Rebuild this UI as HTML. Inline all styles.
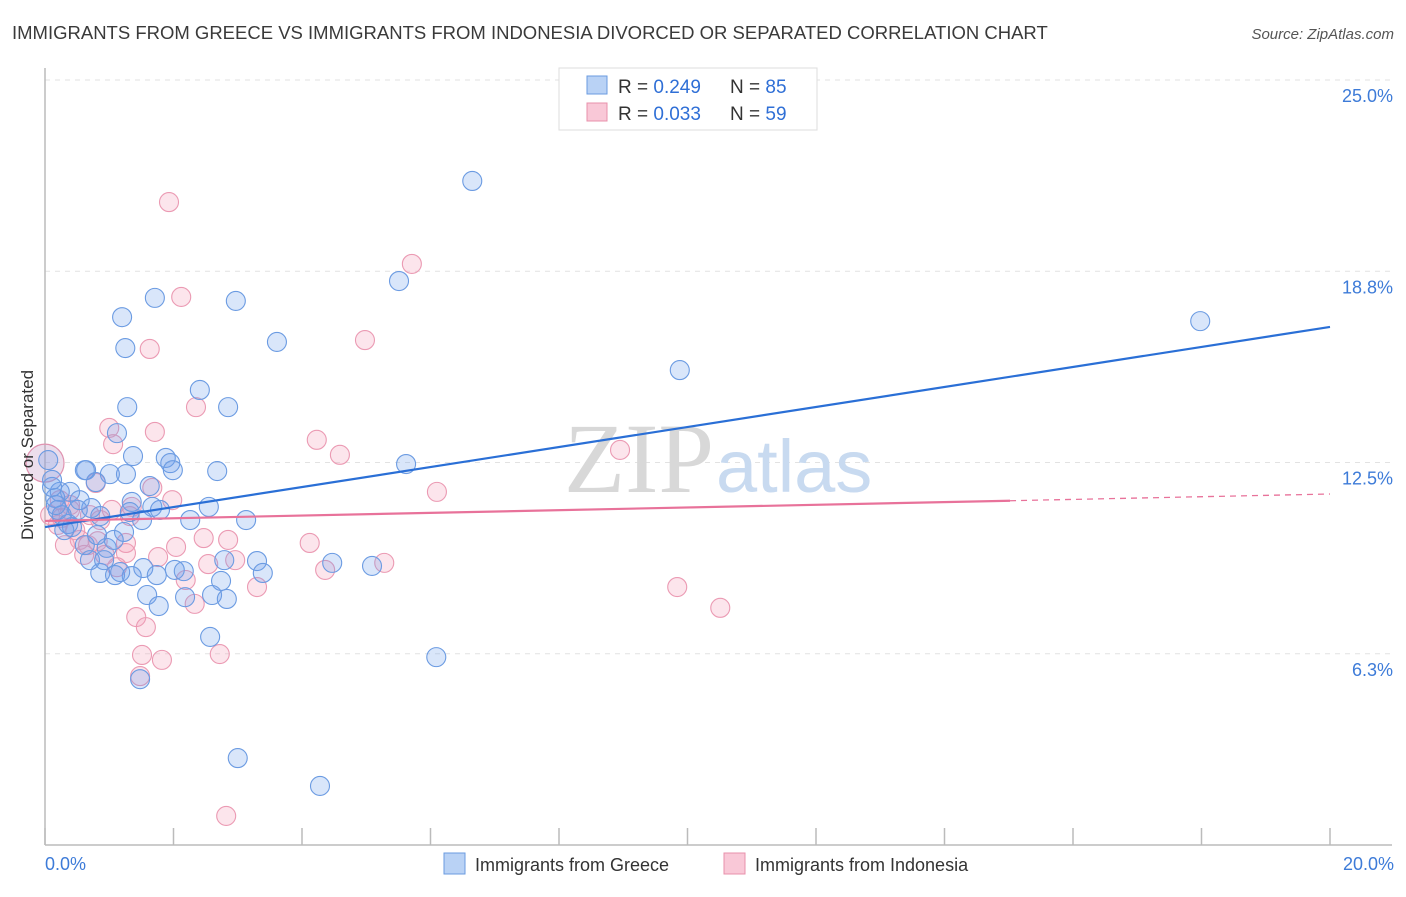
<!DOCTYPE html>
<html><head><meta charset="utf-8"><style>
body{margin:0;background:#fff;font-family:"Liberation Sans",sans-serif;}
</style></head><body>
<svg width="1406" height="892" viewBox="0 0 1406 892" xmlns="http://www.w3.org/2000/svg" font-family="Liberation Sans, sans-serif">
<text x="12" y="39" font-size="18.5" fill="#3a3a3a">IMMIGRANTS FROM GREECE VS IMMIGRANTS FROM INDONESIA DIVORCED OR SEPARATED CORRELATION CHART</text>
<text x="1394" y="39" font-size="15" fill="#555" font-style="italic" text-anchor="end">Source: ZipAtlas.com</text>
<g id="grid"></g>
<text x="714" y="492" font-size="100" fill="#d8d8d8" text-anchor="end" font-family="Liberation Serif, serif">ZIP</text>
<text x="716" y="492" font-size="74" fill="#c8daf0">atlas</text>
<g id="pts"></g>
<g id="lines"></g>
<text transform="translate(33,455) rotate(-90)" font-size="17" fill="#333" text-anchor="middle">Divorced or Separated</text>
<text x="45" y="870" font-size="18" fill="#3d7bd8">0.0%</text>
<text x="1394" y="870" font-size="18" fill="#3d7bd8" text-anchor="end">20.0%</text>
<g>
<rect x="559" y="68" width="258" height="62" fill="#fff" stroke="#ddd"/>
<rect x="587" y="76" width="20" height="18" fill="#b9d2f5" stroke="#6a9be0"/>
<rect x="587" y="103" width="20" height="18" fill="#f9c8d7" stroke="#e890ab"/>
<text x="618" y="93" font-size="19" fill="#333">R = <tspan fill="#2f6fd6">0.249</tspan></text>
<text x="730" y="93" font-size="19" fill="#333">N = <tspan fill="#2f6fd6">85</tspan></text>
<text x="618" y="120" font-size="19" fill="#333">R = <tspan fill="#2f6fd6">0.033</tspan></text>
<text x="730" y="120" font-size="19" fill="#333">N = <tspan fill="#2f6fd6">59</tspan></text>
</g>
<g>
<rect x="444" y="853" width="21" height="21" fill="#b9d2f5" stroke="#6a9be0"/>
<text x="475" y="871" font-size="18" fill="#333">Immigrants from Greece</text>
<rect x="724" y="853" width="21" height="21" fill="#f9c8d7" stroke="#e890ab"/>
<text x="755" y="871" font-size="18" fill="#333">Immigrants from Indonesia</text>
</g>
</svg>
<script>
const yTicks=[6.25,12.5,18.75,25];
const yTickLabels=["6.3%","12.5%","18.8%","25.0%"];
const greeceX=[6.65,17.98,5.51,1.71,2.97,1.20,1.25,3.61,9.88,2.41,1.28,2.85,1.12,1.37,1.88,1.95,1.99,2.68,1.26,1.01,0.64,5.62,1.63,0.79,2.55,1.35,1.67,0.72,0.23,0.39,0.16,0.11,0.20,0.51,0.86,1.32,1.51,1.79,3.13,0.36,0.42,0.30,0.62,0.96,0.81,1.23,1.53,1.74,1.35,2.02,2.16,3.30,2.79,4.47,5.09,3.39,0.86,1.09,1.17,0.70,2.74,1.59,2.18,1.77,2.60,2.83,2.57,6.09,1.48,3.00,4.28,0.11,0.05,0.62,0.26,0.54,0.17,0.92,1.07,2.26];
const greeceY=[21.7,17.12,18.43,17.88,17.78,17.25,16.24,16.44,15.52,14.87,14.31,14.31,13.46,12.71,12.65,12.48,12.25,12.22,12.12,12.12,12.25,12.45,11.73,11.86,11.05,11.21,11.05,11.01,11.54,11.54,11.34,11.70,10.95,10.95,10.75,10.88,10.62,10.95,10.62,10.49,10.39,10.29,9.80,9.71,10.13,10.23,9.05,8.82,8.79,8.99,8.95,9.28,9.31,9.22,9.12,8.89,8.89,8.82,8.92,9.31,8.63,8.17,8.10,7.81,8.17,8.04,6.80,6.14,5.42,2.84,1.93,11.93,12.58,12.25,10.78,11.27,11.11,9.31,9.97,10.62];
const indoX=[1.93,5.71,2.12,4.98,1.63,2.35,4.23,4.59,1.00,1.71,1.06,8.95,6.10,0.79,1.67,1.98,1.35,1.32,0.86,0.39,0.23,0.26,0.20,0.54,0.67,0.82,0.31,1.26,1.26,1.76,2.04,2.47,2.85,2.54,4.36,5.28,2.19,3.30,9.84,10.51,1.42,1.57,2.33,2.72,1.51,1.82,1.48,2.82,0.61,1.12,0.47,1.04,0.70,0.08,0.93,0.39,4.12,2.96];
const indoY=[21.01,18.99,17.91,16.50,16.21,14.31,13.24,12.75,13.63,13.50,13.10,12.91,11.54,11.83,11.67,11.27,11.05,10.75,10.62,10.95,11.27,10.69,10.46,9.97,9.80,9.93,9.80,9.87,9.54,9.41,9.74,10.03,9.97,9.18,8.99,9.22,8.66,8.43,8.43,7.75,7.45,7.12,7.88,6.24,6.21,6.05,5.52,0.95,9.48,9.08,10.29,10.95,10.78,10.78,9.48,11.11,9.87,9.31];
const bigPoint=[0.0,12.48];
const greeceTrend=[10.39,16.93];
const indoTrend=[10.59,11.47];
const indoSolidEnd=15.02;
const NS="http://www.w3.org/2000/svg";
const X=v=>45+v/20*1285;
const Y=v=>845-v*30.6;
function mk(tag,attrs,parent){const e=document.createElementNS(NS,tag);for(const k in attrs)e.setAttribute(k,attrs[k]);parent.appendChild(e);return e;}
const grid=document.getElementById('grid');
yTicks.forEach((t,i)=>{
 const l=mk('line',{x1:45,x2:1392,y1:Y(t),y2:Y(t),stroke:'#e2e2e2','stroke-dasharray':'5,5'},grid);
 
 
 const tx=mk('text',{x:1393,y:Y(t)+22,'font-size':18,fill:'#3d7bd8','text-anchor':'end'},grid);
 tx.textContent=yTickLabels[i];
 
 
});
const ax=mk('line',{x1:45,x2:45,y1:68,y2:845,stroke:'#bbb','stroke-width':1.5},grid);


const bx=mk('line',{x1:45,x2:1392,y1:845,y2:845,stroke:'#bbb','stroke-width':1.5},grid);


for(let i=0;i<=10;i++){
 const t=mk('line',{x1:X(i*2),x2:X(i*2),y1:828,y2:845,stroke:'#bbb','stroke-width':1.5},grid);
 
 
}
const pts=document.getElementById('pts');
indoX.forEach((x,i)=>{
 const c=mk('circle',{cx:X(x),cy:Y(indoY[i]),r:9.5,fill:'rgba(244,160,188,0.28)',stroke:'#eb9ab3','stroke-width':1.1},pts);
 
 
});
const bp=mk('circle',{cx:X(bigPoint[0]),cy:Y(bigPoint[1]),r:19,fill:'rgba(200,160,200,0.35)',stroke:'#e093b0','stroke-width':1.2},pts);


greeceX.forEach((x,i)=>{
 const c=mk('circle',{cx:X(x),cy:Y(greeceY[i]),r:9.5,fill:'rgba(110,160,235,0.26)',stroke:'#6b9be2','stroke-width':1.1},pts);
 
 
});
const lines=document.getElementById('lines');
const gl=mk('line',{x1:X(0),y1:Y(greeceTrend[0]),x2:X(20),y2:Y(greeceTrend[1]),stroke:'#2a6fd6','stroke-width':2.2},lines);


const iy=x=>indoTrend[0]+(indoTrend[1]-indoTrend[0])*x/20;
const il=mk('line',{x1:X(0),y1:Y(iy(0)),x2:X(indoSolidEnd),y2:Y(iy(indoSolidEnd)),stroke:'#e8729a','stroke-width':2.2},lines);


const id=mk('line',{x1:X(indoSolidEnd),y1:Y(iy(indoSolidEnd)),x2:X(20),y2:Y(iy(20)),stroke:'#e8729a','stroke-width':1.3,'stroke-dasharray':'6,5'},lines);


</script>
</body></html>
